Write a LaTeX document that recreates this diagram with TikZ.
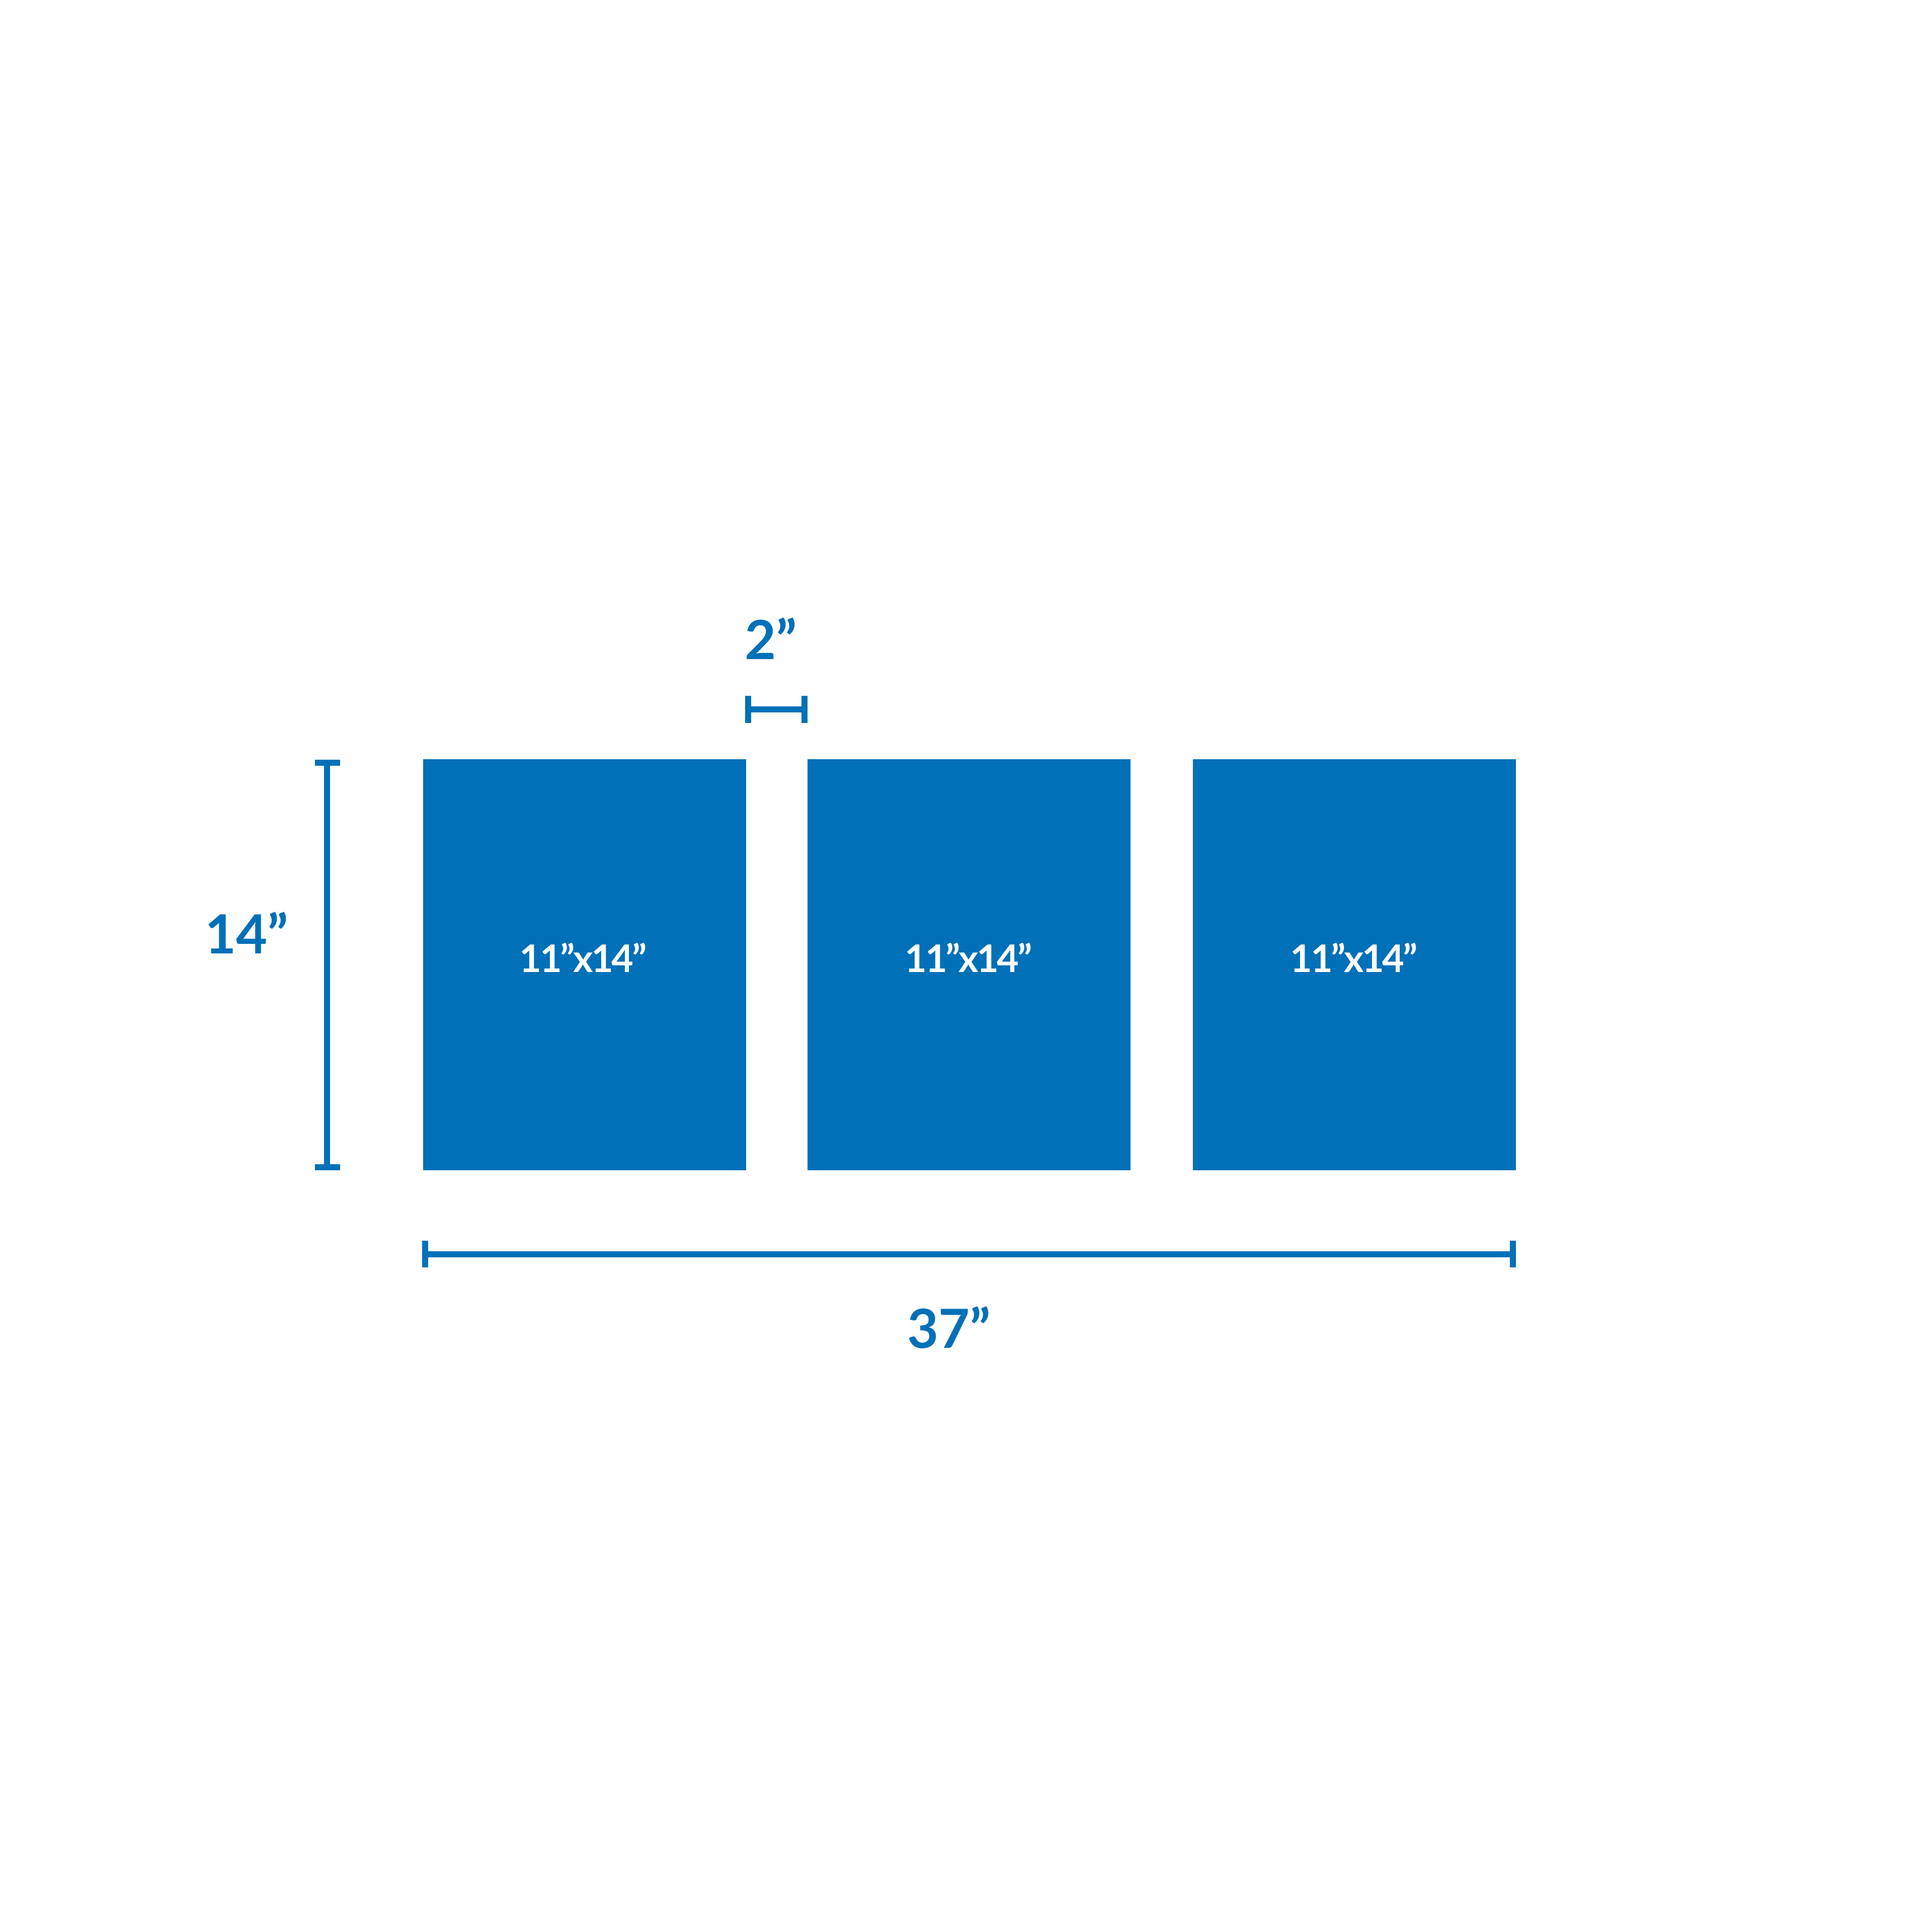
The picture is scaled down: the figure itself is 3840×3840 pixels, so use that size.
\documentclass[tikz,border=0pt]{standalone}
\usepackage{fontspec}
\setmainfont{Lato}
\newfontfamily\panelfont{Lato}[LetterSpace=-4.5]
\definecolor{dimblue}{RGB}{0,112,184}
\tikzset{
  panel/.style={fill=dimblue, draw=none, minimum width=6.42cm, minimum height=8.17cm, inner sep=0pt, anchor=north west},
  dimline/.style={draw=dimblue, line width=0.12cm, line cap=butt},
  dimtick/.style={draw=dimblue, line width=0.12cm, line cap=butt},
  dimlabel/.style={text=dimblue, font=\fontsize{30.5}{34}\selectfont\bfseries, inner sep=0pt, anchor=base},
  panellabel/.style={text=white, font=\panelfont\fontsize{21.5}{26}\selectfont\bfseries, inner sep=0pt, anchor=base}
}
\begin{document}
\begin{tikzpicture}[x=0.01cm,y=-0.01cm]
\useasboundingbox (0,0) rectangle (3840,3840);
\fill[white] (0,0) rectangle (3840,3840);
% panels
\node[panel] (p1) at (840,1508) {};
\node[panel] (p2) at (1604,1508) {};
\node[panel] (p3) at (2370,1508) {};
\node[panellabel] (l1) at (1159,1932) {11”x14”};
\node[panellabel] (l2) at (1925,1932) {11”x14”};
\node[panellabel] (l3) at (2691,1932) {11”x14”};
% vertical 14" dimension
\coordinate (vt) at (650,1516);
\coordinate (vb) at (650,2320);
\coordinate (vtl) at (626,1516);
\coordinate (vtr) at (676,1516);
\coordinate (vbl) at (626,2320);
\coordinate (vbr) at (676,2320);
\draw[dimline] (vt) -- (vb);
\draw[dimline] (vtl) -- (vtr);
\draw[dimline] (vbl) -- (vbr);
\node[dimlabel] (h14) at (490,1895) {14”};
% gap 2" dimension
\coordinate (gl) at (1487,1410);
\coordinate (gr) at (1599,1410);
\coordinate (glt) at (1487,1383);
\coordinate (glb) at (1487,1437);
\coordinate (grt) at (1599,1383);
\coordinate (grb) at (1599,1437);
\draw[dimline] (gl) -- (gr);
\draw[dimtick] (glt) -- (glb);
\draw[dimtick] (grt) -- (grb);
\node[dimlabel] (g2) at (1532,1310) {2”};
% total 37" dimension
\coordinate (bl) at (845,2493);
\coordinate (br) at (3007,2493);
\coordinate (blt) at (845,2466);
\coordinate (blb) at (845,2519);
\coordinate (brt) at (3007,2466);
\coordinate (brb) at (3007,2519);
\draw[dimline] (bl) -- (br);
\draw[dimtick] (blt) -- (blb);
\draw[dimtick] (brt) -- (brb);
\node[dimlabel] (w37) at (1886,2679) {37”};
\end{tikzpicture}
\end{document}
